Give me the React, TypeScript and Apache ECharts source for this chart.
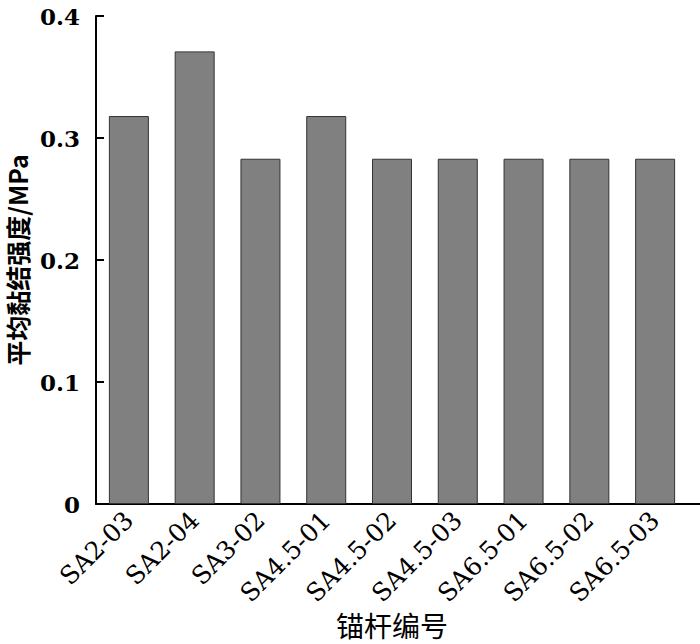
import React, { useEffect, useRef } from "react";
import * as echarts from "echarts";

const categories = ["SA2-03", "SA2-04", "SA3-02", "SA4.5-01", "SA4.5-02", "SA4.5-03", "SA6.5-01", "SA6.5-02", "SA6.5-03"];
const values = [0.318, 0.371, 0.283, 0.318, 0.283, 0.283, 0.283, 0.283, 0.283];
const yTicks = { min: 0, max: 0.4, interval: 0.1 };
const xName = "锚杆编号";
const yName = "平均黏结强度/MPa";

export default function App() {
  const ref = useRef<HTMLDivElement>(null);
  useEffect(() => {
    if (!ref.current) return;
    const chart = echarts.init(ref.current, null, { renderer: "svg" });
    const serif = "'DejaVu Serif', 'Noto Sans CJK SC', serif";
    chart.setOption({
      animation: false,
      backgroundColor: "#ffffff",
      grid: { left: 96, right: 12, top: 16, bottom: 140, containLabel: false, outerBoundsMode: "none" },
      xAxis: {
        type: "category",
        data: categories,
        axisLine: { lineStyle: { color: "#000", width: 2 } },
        axisTick: { show: false },
        axisLabel: {
          interval: 0,
          rotate: 45,
          margin: 12,
          color: "#000",
          fontFamily: serif,
          fontSize: 25,
        },
        name: xName,
        nameLocation: "middle",
        nameMoveOverlap: false,
        nameGap: 106,
        nameTextStyle: {
          color: "#000",
          fontFamily: "'Noto Sans CJK SC', sans-serif",
          fontSize: 28,
          lineHeight: 30,
        },
      },
      yAxis: {
        type: "value",
        min: yTicks.min,
        max: yTicks.max,
        interval: yTicks.interval,
        splitLine: { show: false },
        axisLine: { show: true, lineStyle: { color: "#000", width: 2 } },
        axisTick: { show: true, inside: true, length: 8, lineStyle: { color: "#000", width: 2 } },
        axisLabel: {
          margin: 16,
          color: "#000",
          fontFamily: serif,
          fontWeight: "bold",
          fontSize: 23,
        },
        name: yName,
        nameLocation: "middle",
        nameMoveOverlap: false,
        nameGap: 66,
        nameTextStyle: {
          color: "#000",
          fontFamily: "'Noto Sans CJK SC', sans-serif",
          fontWeight: "bold",
          fontSize: 25,
          lineHeight: 27,
        },
      },
      series: [
        {
          type: "bar",
          data: values,
          barWidth: 40,
          itemStyle: { color: "#808080", borderColor: "#333", borderWidth: 1 },
        },
      ],
      graphic: [
        {
          type: "line",
          shape: { x1: 687, y1: 504, x2: 700, y2: 504 },
          style: { stroke: "#000", lineWidth: 2 },
        },
      ],
    });
    return () => chart.dispose();
  }, []);
  return <div ref={ref} style={{ position: "fixed", left: 0, top: 0, width: 700, height: 644 }} />;
}
